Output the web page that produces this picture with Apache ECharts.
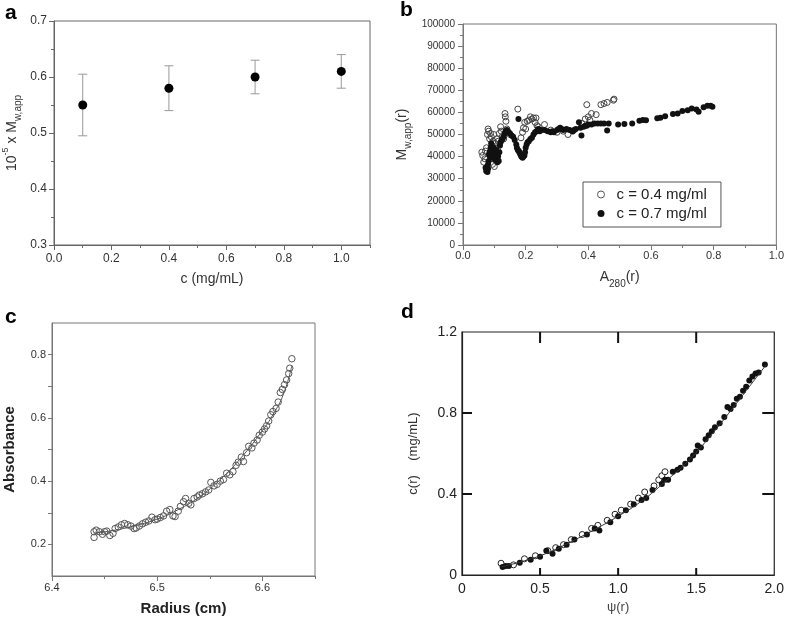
<!DOCTYPE html>
<html><head><meta charset="utf-8">
<script src="https://cdn.jsdelivr.net/npm/echarts@6/dist/echarts.min.js"></script>
<style>html,body{margin:0;padding:0;background:#fff}#c{width:787px;height:618px}</style>
</head><body><div id="c"></div>
<script>
// ---- Panel a ----
const aX = [0.1, 0.4, 0.7, 1.0];
const aY = [0.55, 0.58, 0.60, 0.61];
const aLow = [0.495, 0.54, 0.57, 0.58];
const aHigh = [0.605, 0.62, 0.63, 0.64];
// ---- Panel b (values in Da) ----
const bOpenX = [0.06,0.063,0.066,0.07,0.072,0.075,0.078,0.08,0.082,0.085,0.088,0.09,0.092,0.094,0.096,0.098,0.1,0.102,0.105,0.108,0.11,0.113,0.116,0.12,0.122,0.125,0.13,0.134,0.135,0.137,0.14,0.15,0.175,0.185,0.19,0.193,0.197,0.2,0.205,0.21,0.215,0.22,0.225,0.23,0.233,0.236,0.24,0.26,0.28,0.3,0.32,0.335,0.35,0.38,0.39,0.395,0.4,0.405,0.41,0.425,0.44,0.45,0.46,0.48,0.482];
const bOpenY = [42000,40500,37500,39000,42500,44000,50000,52500,51500,48000,50500,49000,45000,36500,47000,50000,35500,46000,44000,48000,43000,47000,50500,53500,51500,49000,48000,59500,58000,56000,52500,50000,61500,48500,51000,53000,55500,52500,56000,56500,58000,57000,57500,55500,57500,54000,53500,54500,52000,51000,51500,50000,51500,55000,57000,63500,58000,56500,59500,59000,63500,64000,64500,65500,66000];
const bFillX = [0.072,0.074,0.076,0.078,0.08,0.08,0.082,0.083,0.085,0.086,0.088,0.09,0.09,0.092,0.094,0.096,0.098,0.1,0.102,0.104,0.106,0.108,0.11,0.112,0.114,0.116,0.118,0.12,0.123,0.126,0.13,0.133,0.136,0.14,0.143,0.146,0.15,0.155,0.16,0.165,0.17,0.172,0.175,0.177,0.178,0.18,0.183,0.186,0.19,0.193,0.196,0.198,0.2,0.203,0.206,0.21,0.215,0.22,0.225,0.23,0.235,0.24,0.245,0.25,0.26,0.27,0.28,0.285,0.29,0.3,0.305,0.31,0.315,0.32,0.33,0.34,0.35,0.355,0.36,0.37,0.375,0.378,0.385,0.39,0.395,0.4,0.41,0.42,0.43,0.44,0.45,0.46,0.465,0.495,0.515,0.54,0.563,0.574,0.584,0.62,0.63,0.645,0.67,0.685,0.7,0.717,0.73,0.745,0.752,0.768,0.78,0.79,0.796];
const bFillY = [35000,33500,34000,33000,34500,36500,38000,41000,42000,40000,44000,46000,43000,41000,39500,42000,44000,40000,38500,41000,43000,39000,37500,40000,38000,42000,45000,46500,47500,48000,49000,50500,51500,52000,51500,51000,50500,49500,49000,47500,45500,44000,43000,57000,42500,42000,41000,40000,39500,40000,40500,42000,44000,45500,46500,47000,48000,48500,50000,51000,51500,52500,51500,52000,52000,51500,51000,51500,51000,52000,52500,53000,52500,52000,52500,52000,51500,52000,52500,55500,53000,49500,53500,54000,54000,54500,54500,55000,55000,55000,55000,51800,55000,54500,54700,55000,56200,56600,56500,57300,57600,58300,59300,59500,60600,61000,61800,61300,60300,62300,63000,63000,62600];
// ---- Panel c ----
const cR = [6.44,6.44,6.442,6.445,6.448,6.45,6.452,6.455,6.458,6.46,6.463,6.466,6.469,6.472,6.475,6.478,6.48,6.483,6.486,6.489,6.492,6.495,6.498,6.5,6.503,6.506,6.509,6.512,6.515,6.517,6.52,6.522,6.525,6.527,6.53,6.532,6.535,6.538,6.54,6.543,6.546,6.549,6.551,6.554,6.557,6.56,6.563,6.566,6.569,6.572,6.575,6.577,6.58,6.582,6.585,6.587,6.59,6.592,6.595,6.597,6.6,6.602,6.604,6.606,6.608,6.61,6.613,6.615,6.617,6.619,6.621,6.623,6.625,6.626,6.628];
const cA = [0.222,0.24,0.245,0.24,0.232,0.24,0.242,0.228,0.235,0.25,0.255,0.262,0.266,0.262,0.258,0.25,0.252,0.258,0.265,0.27,0.274,0.286,0.278,0.28,0.285,0.29,0.305,0.31,0.29,0.288,0.305,0.32,0.335,0.345,0.33,0.325,0.345,0.35,0.356,0.36,0.366,0.372,0.396,0.385,0.39,0.4,0.405,0.425,0.42,0.43,0.45,0.46,0.476,0.462,0.49,0.51,0.505,0.52,0.53,0.545,0.555,0.565,0.575,0.59,0.61,0.62,0.63,0.65,0.68,0.69,0.705,0.72,0.74,0.757,0.787];
const cFitR = [6.44,6.46,6.48,6.5,6.52,6.54,6.56,6.58,6.6,6.61,6.62,6.628];
const cFitA = [0.235,0.245,0.26,0.28,0.31,0.35,0.405,0.475,0.56,0.61,0.675,0.765];
// ---- Panel d ----
const dOpenX = [0.25,0.33,0.4,0.47,0.55,0.6,0.65,0.7,0.77,0.83,0.87,0.93,0.98,1.02,1.08,1.13,1.17,1.23,1.26,1.28,1.3];
const dOpenY = [0.058,0.05,0.08,0.095,0.12,0.135,0.15,0.175,0.2,0.23,0.245,0.27,0.3,0.32,0.35,0.38,0.41,0.44,0.47,0.49,0.51];
const dFillX = [0.26,0.28,0.3,0.37,0.44,0.5,0.54,0.58,0.62,0.67,0.72,0.8,0.85,0.88,0.95,1.0,1.05,1.1,1.15,1.18,1.22,1.28,1.3,1.32,1.35,1.38,1.4,1.43,1.46,1.48,1.5,1.51,1.53,1.56,1.58,1.6,1.62,1.65,1.68,1.7,1.72,1.74,1.76,1.78,1.8,1.82,1.84,1.86,1.88,1.9,1.94];
const dFillY = [0.04,0.045,0.045,0.06,0.075,0.09,0.12,0.105,0.13,0.15,0.175,0.2,0.23,0.22,0.26,0.29,0.32,0.35,0.37,0.38,0.42,0.45,0.47,0.47,0.51,0.52,0.53,0.55,0.57,0.59,0.61,0.64,0.63,0.67,0.69,0.71,0.73,0.75,0.78,0.83,0.82,0.84,0.87,0.88,0.91,0.93,0.96,0.98,0.995,1.0,1.04];
const dFitX = [0.25,0.4,0.55,0.7,0.85,1.0,1.15,1.3,1.45,1.6,1.75,1.85,1.95];
const dFitY = [0.04,0.07,0.11,0.165,0.225,0.29,0.365,0.46,0.565,0.695,0.84,0.94,1.04];
const dXRange = [0, 2];
const dYRange = [0, 1.2];
const dTickX = [0.5, 1.0, 1.5];
const dTickY = [0.4, 0.8];

const zip = (xs, ys) => xs.map((x, i) => [x, ys[i]]);
const FONT = '"Liberation Sans", Arial, sans-serif';
const chart = echarts.init(document.getElementById('c'));

const axLine = (c, w) => ({show: true, onZero: false, lineStyle: {color: c, width: w || 1}});
const tick = (len, c) => ({show: true, inside: false, length: len, lineStyle: {color: c, width: 1}});
const hidden = () => ({show: false});

const option = {
  animation: false,
  textStyle: {fontFamily: FONT},
  grid: [
    {left: 50, top: 21, width: 320, height: 224, show: true, borderColor: '#666', borderWidth: 1},
    {left: 463, top: 24, width: 314, height: 221, show: true, borderColor: '#777', borderWidth: 1},
    {left: 52, top: 323, width: 263, height: 253, show: true, borderColor: '#777', borderWidth: 1},
    {left: 462, top: 332, width: 315, height: 243, show: true, borderColor: '#222', borderWidth: 1.2}
  ],
  legend: {
    left: 583, top: 182, orient: 'vertical',
    borderColor: '#555', borderWidth: 1,
    padding: [5, 14, 6, 14], itemGap: 4, itemWidth: 7, itemHeight: 7,
    textStyle: {fontSize: 15, color: '#222', fontFamily: FONT, padding: [0, 0, 0, 7]},
    data: [
      {name: 'c = 0.4 mg/ml', icon: 'circle', itemStyle: {color: '#fff', borderColor: '#555', borderWidth: 1}},
      {name: 'c = 0.7 mg/ml', icon: 'circle', itemStyle: {color: '#111', borderWidth: 0}}
    ]
  },
  xAxis: [
    // 0: a main
    {gridIndex: 0, type: 'value', position: 'bottom', min: 0, max: 1.1, interval: 0.2, splitLine: hidden(),
     axisLine: axLine('#666'), axisTick: tick(5, '#666'),
     axisLabel: {fontSize: 12, color: '#333', margin: 8, showMaxLabel: false, formatter: v => v.toFixed(1)},
     name: 'c (mg/mL)', nameLocation: 'middle', nameGap: 27, nameTextStyle: {fontSize: 14, color: '#333'}},
    // 1: a minor ticks
    {gridIndex: 0, type: 'value', position: 'bottom', min: 0, max: 1.1, interval: 0.1, splitLine: hidden(),
     axisLine: {show: false, onZero: false}, axisTick: tick(3, '#666'), axisLabel: hidden()},
    // 2: b
    {gridIndex: 1, type: 'value', position: 'bottom', min: 0, max: 1, interval: 0.2, splitLine: hidden(),
     axisLine: axLine('#777'), axisTick: tick(5, '#777'),
     minorTick: {show: true, splitNumber: 2, length: 3, lineStyle: {color: '#777'}},
     axisLabel: {fontSize: 11, color: '#333', margin: 5, formatter: v => v.toFixed(1)},
     name: 'A{sub|280}(r)', nameLocation: 'middle', nameGap: 20,
     nameTextStyle: {fontSize: 14, color: '#333', lineHeight: 18, rich: {sub: {fontSize: 10, verticalAlign: 'bottom', lineHeight: 24, padding: [6, 0, 0, 0]}}}},
    // 3: c main
    {gridIndex: 2, type: 'value', position: 'bottom', min: 6.4, max: 6.65, interval: 0.1, splitLine: hidden(),
     axisLine: axLine('#777'), axisTick: tick(5, '#777'),
     axisLabel: {fontSize: 11, color: '#333', margin: 6, showMaxLabel: false, formatter: v => v.toFixed(1)},
     name: 'Radius (cm)', nameLocation: 'middle', nameGap: 25, nameTextStyle: {fontSize: 15, fontWeight: 'bold', color: '#222'}},
    // 4: c minor ticks
    {gridIndex: 2, type: 'value', position: 'bottom', min: 6.4, max: 6.65, interval: 0.05, splitLine: hidden(),
     axisLine: {show: false, onZero: false}, axisTick: tick(3, '#777'), axisLabel: hidden()},
    // 5: d
    {gridIndex: 3, type: 'value', position: 'bottom', min: dXRange[0], max: dXRange[1], interval: 0.5, splitLine: hidden(),
     axisLine: axLine('#222', 1.2), axisTick: hidden(),
     axisLabel: {fontSize: 14, color: '#222', margin: 7, formatter: v => v === 0 ? '0' : v.toFixed(1)},
     name: 'ψ(r)', nameLocation: 'middle', nameGap: 26, nameTextStyle: {fontSize: 13, color: '#444'}}
  ],
  yAxis: [
    // 0: a
    {gridIndex: 0, type: 'value', position: 'left', min: 0.3, max: 0.7, interval: 0.1, splitLine: hidden(),
     axisLine: axLine('#666'), axisTick: tick(5, '#666'),
     minorTick: {show: true, splitNumber: 2, length: 3, lineStyle: {color: '#666'}},
     axisLabel: {fontSize: 12, color: '#333', margin: 7, formatter: v => v.toFixed(1)},
     name: '10{sup|-5} x M{sub|w,app}', nameLocation: 'middle', nameGap: 31,
     nameTextStyle: {fontSize: 14, color: '#333', lineHeight: 22,
       rich: {sup: {fontSize: 9, verticalAlign: 'top', lineHeight: 12},
              sub: {fontSize: 10, verticalAlign: 'bottom', lineHeight: 12}}}},
    // 1: b
    {gridIndex: 1, type: 'value', position: 'left', min: 0, max: 100000, interval: 10000, splitLine: hidden(),
     axisLine: axLine('#777'), axisTick: tick(5, '#777'),
     minorTick: {show: true, splitNumber: 2, length: 3, lineStyle: {color: '#777'}},
     axisLabel: {fontSize: 10, color: '#333', margin: 8, formatter: v => String(Math.round(v))},
     name: 'M{sub|w,app}(r)', nameLocation: 'middle', nameGap: 50,
     nameTextStyle: {fontSize: 14, color: '#333', lineHeight: 22,
       rich: {sub: {fontSize: 10, verticalAlign: 'bottom', lineHeight: 12}}}},
    // 2: c
    {gridIndex: 2, type: 'value', position: 'left', min: 0.1, max: 0.9, interval: 0.1, splitLine: hidden(),
     axisLine: axLine('#777'), axisTick: tick(4, '#777'),
     axisLabel: {fontSize: 11, color: '#333', margin: 6, showMinLabel: false, showMaxLabel: false,
       formatter: v => (Math.round(v * 10) % 2 === 0 ? v.toFixed(1) : '')},
     name: 'Absorbance', nameLocation: 'middle', nameGap: 35, nameTextStyle: {fontSize: 15, fontWeight: 'bold', color: '#222'}},
    // 3: d
    {gridIndex: 3, type: 'value', position: 'left', min: dYRange[0], max: dYRange[1], interval: 0.4, splitLine: hidden(),
     axisLine: axLine('#222', 1.2), axisTick: hidden(),
     axisLabel: {fontSize: 14, color: '#222', margin: 5, formatter: v => v === 0 ? '0' : v.toFixed(1)},
     name: 'c(r)    (mg/mL)', nameLocation: 'middle', nameGap: 42, nameTextStyle: {fontSize: 13, color: '#333'}}
  ],
  graphic: [
    {type: 'text', left: 5, top: 3, style: {text: 'a', font: 'bold 21px ' + FONT, fill: '#000'}},
    {type: 'text', left: 400, top: 0, style: {text: 'b', font: 'bold 21px ' + FONT, fill: '#000'}},
    {type: 'text', left: 5, top: 307, style: {text: 'c', font: 'bold 21px ' + FONT, fill: '#000'}},
    {type: 'text', left: 401, top: 302, style: {text: 'd', font: 'bold 21px ' + FONT, fill: '#000'}}
  ],
  series: [
    {type: 'custom', xAxisIndex: 0, yAxisIndex: 0, encode: {x: 0, y: [1, 2]},
     data: aX.map((x, i) => [x, aLow[i], aHigh[i]]),
     renderItem: (params, api) => {
       const x = api.value(0);
       const p1 = api.coord([x, api.value(1)]);
       const p2 = api.coord([x, api.value(2)]);
       const w = 4.5;
       const st = {stroke: '#999', lineWidth: 1};
       return {type: 'group', children: [
         {type: 'line', shape: {x1: p1[0], y1: p1[1], x2: p2[0], y2: p2[1]}, style: st},
         {type: 'line', shape: {x1: p1[0] - w, y1: p1[1], x2: p1[0] + w, y2: p1[1]}, style: st},
         {type: 'line', shape: {x1: p2[0] - w, y1: p2[1], x2: p2[0] + w, y2: p2[1]}, style: st}
       ]};
     }},
    {type: 'scatter', xAxisIndex: 0, yAxisIndex: 0, data: zip(aX, aY), symbolSize: 9,
     itemStyle: {color: '#000', opacity: 1}},
    {type: 'scatter', xAxisIndex: 1, yAxisIndex: 0, data: [], silent: true},
    {name: 'c = 0.4 mg/ml', type: 'scatter', xAxisIndex: 2, yAxisIndex: 1, data: zip(bOpenX, bOpenY), symbolSize: 6,
     itemStyle: {color: 'rgba(255,255,255,0)', borderColor: '#444', borderWidth: 1, opacity: 1}},
    {name: 'c = 0.7 mg/ml', type: 'scatter', xAxisIndex: 2, yAxisIndex: 1, data: zip(bFillX, bFillY), symbolSize: 6,
     itemStyle: {color: '#111', opacity: 1}},
    {type: 'line', xAxisIndex: 3, yAxisIndex: 2, data: zip(cFitR, cFitA), smooth: true, symbol: 'none',
     lineStyle: {color: '#555', width: 1}},
    {type: 'scatter', xAxisIndex: 3, yAxisIndex: 2, data: zip(cR, cA), symbolSize: 6.5,
     itemStyle: {color: 'rgba(255,255,255,0)', borderColor: '#555', borderWidth: 1, opacity: 1}},
    {type: 'scatter', xAxisIndex: 4, yAxisIndex: 2, data: [], silent: true},
    // panel d inward ticks on all four sides, positioned via the axes' own scales
    {type: 'custom', xAxisIndex: 5, yAxisIndex: 3, silent: true, z: 10,
     encode: {x: 0, y: 1},
     data: dTickX.map(v => [v, 0]).concat(dTickY.map(v => [v, 1])),
     renderItem: (params, api) => {
       const v = api.value(0), kind = api.value(1);
       const st = {stroke: '#111', lineWidth: 2};
       if (kind < 0.5) {
         const b = api.coord([v, dYRange[0]]), t = api.coord([v, dYRange[1]]);
         return {type: 'group', children: [
           {type: 'line', shape: {x1: b[0], y1: b[1], x2: b[0], y2: b[1] - 7}, style: st},
           {type: 'line', shape: {x1: t[0], y1: t[1], x2: t[0], y2: t[1] + 11}, style: st}
         ]};
       }
       const l = api.coord([dXRange[0], v]), r = api.coord([dXRange[1], v]);
       return {type: 'group', children: [
         {type: 'line', shape: {x1: l[0], y1: l[1], x2: l[0] + 10, y2: l[1]}, style: st},
         {type: 'line', shape: {x1: r[0], y1: r[1], x2: r[0] - 12, y2: r[1]}, style: st}
       ]};
     }},
    {type: 'line', xAxisIndex: 5, yAxisIndex: 3, data: zip(dFitX, dFitY), smooth: true, symbol: 'none',
     lineStyle: {color: '#333', width: 1}},
    {type: 'scatter', xAxisIndex: 5, yAxisIndex: 3, data: zip(dOpenX, dOpenY), symbolSize: 6,
     itemStyle: {color: '#fff', borderColor: '#222', borderWidth: 1, opacity: 1}},
    {type: 'scatter', xAxisIndex: 5, yAxisIndex: 3, data: zip(dFillX, dFillY), symbolSize: 6,
     itemStyle: {color: '#111', opacity: 1}}
  ]
};
chart.setOption(option);
</script></body></html>
